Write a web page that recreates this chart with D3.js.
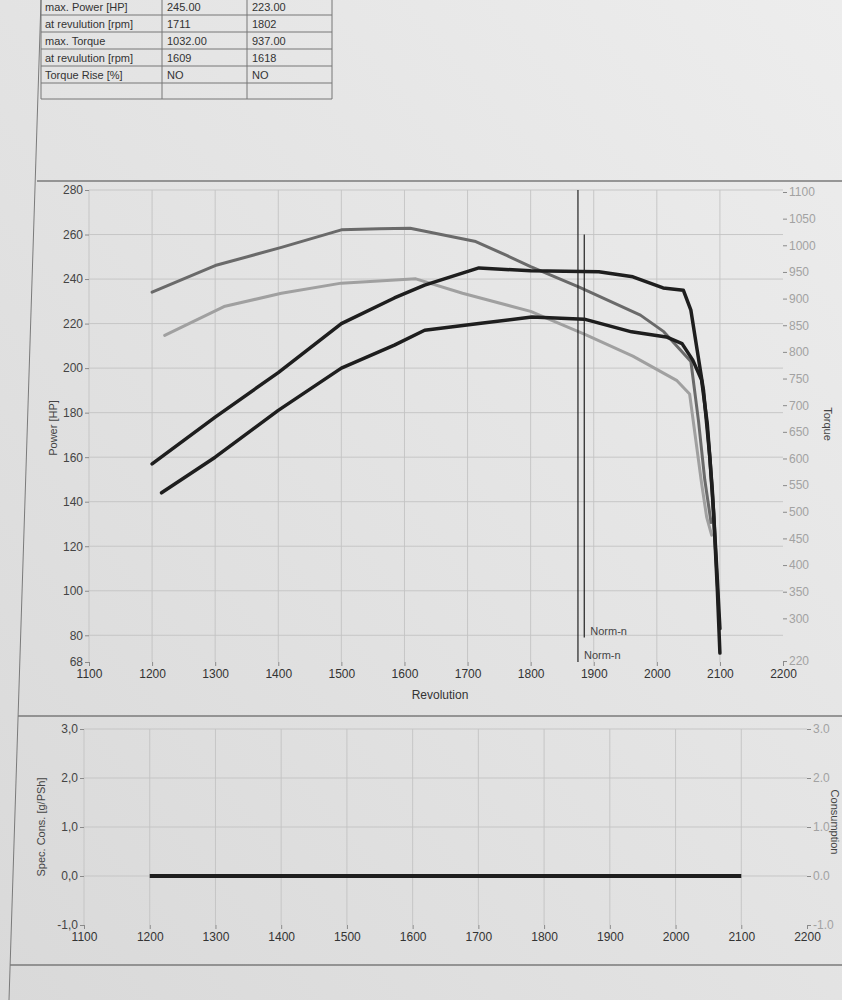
<!DOCTYPE html>
<html>
<head>
<meta charset="utf-8">
<script src="https://cdn.jsdelivr.net/npm/d3@7"></script>
<style>
  body { margin: 0; background: #e3e3e3; }
  svg { display: block; font-family: "Liberation Sans", Arial, sans-serif; }
</style>
</head>
<body>
<svg id="chart" width="842" height="1000"></svg>
<script>
// --- table at the top of the sheet ---
const tableLabels = ["max. Power [HP]", "at revulution [rpm]", "max. Torque", "at revulution [rpm]", "Torque Rise [%]", ""];
const tableRun1 = ["245.00", "1711", "1032.00", "1609", "NO", ""];
const tableRun2 = ["223.00", "1802", "937.00", "1618", "NO", ""];

// --- tick labels ---
const rpmTicks = [1100, 1200, 1300, 1400, 1500, 1600, 1700, 1800, 1900, 2000, 2100, 2200];
const powerTicks = [68, 80, 100, 120, 140, 160, 180, 200, 220, 240, 260, 280];
const torqueTicks = [220, 300, 350, 400, 450, 500, 550, 600, 650, 700, 750, 800, 850, 900, 950, 1000, 1050, 1100];
const consTicks = [-1, 0, 1, 2, 3];

// --- run 1 ---
const power1Rpm = [1200, 1300, 1400, 1500, 1584, 1632, 1718, 1800, 1908, 1962, 2010, 2042, 2054, 2064, 2074, 2084, 2090, 2096, 2100];
const power1Hp  = [157, 178, 198, 220, 231.5, 237.3, 245, 243.7, 243.3, 241, 236, 235, 226, 208, 190, 160, 135, 100, 72];
const torque1Rpm = [1200, 1300, 1405, 1500, 1560, 1609, 1713, 1762, 1800, 1876, 1974, 2011, 2054, 2066, 2076, 2086];
const torque1Nm  = [912, 962, 996, 1029, 1031, 1032, 1007, 981, 960, 922, 869, 838, 782, 671, 560, 480];

// --- run 2 ---
const power2Rpm = [1215, 1300, 1400, 1500, 1584, 1632, 1718, 1802, 1885, 1960, 2015, 2040, 2057, 2071, 2080, 2088, 2095, 2100];
const power2Hp  = [144, 160, 181, 200, 210.3, 217, 220, 223, 222, 216.3, 214, 211, 203.6, 194.6, 175, 145, 110, 83];
const torque2Rpm = [1220, 1314, 1405, 1500, 1618, 1692, 1800, 1886, 1962, 2032, 2052, 2071, 2079, 2087];
const torque2Nm  = [831, 885, 910, 929, 937, 910, 876, 833, 792, 746, 721, 553, 490, 456];

// --- Norm-n markers (rpm, top / bottom in HP units) ---
const normRpm = [1875, 1885];
const normTop = [280, 260];
const normBottom = [68, 79];

// --- specific consumption ---
const consRpm = [1200, 2100];
const consValue = [0, 0];

const svg = d3.select("#chart");

// paper background
const defs = svg.append("defs");
const grad = defs.append("linearGradient").attr("id", "paper")
  .attr("x1", 0).attr("y1", 1).attr("x2", 1).attr("y2", 0);
grad.append("stop").attr("offset", "0%").attr("stop-color", "#d9d9d9");
grad.append("stop").attr("offset", "100%").attr("stop-color", "#ededed");
svg.append("rect").attr("width", 842).attr("height", 1000).attr("fill", "url(#paper)");

// sheet frame lines
const frame = svg.append("g").attr("stroke", "#7a7a7a").attr("fill", "none");
frame.append("line").attr("x1", 41).attr("y1", 0).attr("x2", 9).attr("y2", 1000).attr("stroke-width", 1);
frame.append("line").attr("x1", 37).attr("y1", 181).attr("x2", 842).attr("y2", 181).attr("stroke-width", 1.5);
frame.append("line").attr("x1", 18).attr("y1", 716).attr("x2", 842).attr("y2", 716).attr("stroke-width", 1.5);
frame.append("line").attr("x1", 10).attr("y1", 965).attr("x2", 842).attr("y2", 965).attr("stroke-width", 1.5);

// table
const colX = [41, 162, 247, 332];
const rowY = [-2, 15, 32, 49, 66, 83, 99];
const table = svg.append("g");
colX.forEach(x => table.append("line").attr("x1", x).attr("x2", x).attr("y1", 0).attr("y2", 99)
  .attr("stroke", "#777"));
rowY.slice(1).forEach(y => table.append("line").attr("x1", 41).attr("x2", 332).attr("y1", y).attr("y2", y)
  .attr("stroke", "#777"));
const tableCols = [tableLabels, tableRun1, tableRun2];
tableCols.forEach((col, c) => {
  table.selectAll(null).data(col).join("text")
    .attr("x", colX[c] + (c === 0 ? 4 : 5))
    .attr("y", (d, i) => (rowY[i] + rowY[i + 1]) / 2 + 4)
    .attr("font-size", 11)
    .attr("fill", "#333")
    .text(d => d);
});

// ================= top panel: power / torque =================
const x1 = d3.scaleLinear([1100, 2200], [89, 783]);
const yP = d3.scaleLinear([68, 280], [662, 190]);
const yT = d3.scaleLinear([220, 1100], [661, 192]);

const grid1 = svg.append("g").attr("stroke", "#c3c3c3").attr("stroke-width", 0.9);
grid1.selectAll(null).data(rpmTicks.slice(0, -1)).join("line")
  .attr("x1", d => x1(d)).attr("x2", d => x1(d))
  .attr("y1", yP(280)).attr("y2", yP(68));
grid1.selectAll(null).data(powerTicks.slice(1)).join("line")
  .attr("x1", x1(1100)).attr("x2", x1(2200))
  .attr("y1", d => yP(d)).attr("y2", d => yP(d));

function styleAxis(g, color) {
  g.select(".domain").remove();
  g.selectAll(".tick line").attr("stroke", "#8a8a8a");
  g.selectAll(".tick text").attr("fill", color).attr("font-size", 12)
    .attr("font-family", "Liberation Sans, Arial, sans-serif");
}

svg.append("g").attr("transform", `translate(${x1(1100)},0)`)
  .call(d3.axisLeft(yP).tickValues(powerTicks).tickFormat(d3.format("d")).tickSize(4).tickPadding(2))
  .call(g => styleAxis(g, "#444"));
svg.append("g").attr("transform", `translate(${x1(2200)},0)`)
  .call(d3.axisRight(yT).tickValues(torqueTicks).tickFormat(d3.format("d")).tickSize(4).tickPadding(2))
  .call(g => styleAxis(g, "#a2a2a2"));
svg.append("g").attr("transform", `translate(0,${yP(68)})`)
  .call(d3.axisBottom(x1).tickValues(rpmTicks).tickFormat(d3.format("d")).tickSize(4).tickPadding(3))
  .call(g => styleAxis(g, "#333"));

svg.append("text").attr("x", 440).attr("y", 699).attr("text-anchor", "middle")
  .attr("font-size", 12).attr("fill", "#333").text("Revolution");
svg.append("text").attr("transform", "translate(57,428) rotate(-90)").attr("text-anchor", "middle")
  .attr("font-size", 11).attr("fill", "#444").text("Power [HP]");
svg.append("text").attr("transform", "translate(824,424) rotate(90)").attr("text-anchor", "middle")
  .attr("font-size", 11).attr("fill", "#444").text("Torque");

const zip = (a, b) => a.map((v, i) => [v, b[i]]);
const linePow = d3.line().x(d => x1(d[0])).y(d => yP(d[1]));
const lineTor = d3.line().x(d => x1(d[0])).y(d => yT(d[1]));

const curves = svg.append("g").attr("fill", "none").attr("stroke-linejoin", "round").attr("stroke-linecap", "round");
curves.append("path").attr("d", lineTor(zip(torque2Rpm, torque2Nm)))
  .attr("stroke", "#a0a0a0").attr("stroke-width", 3);
curves.append("path").attr("d", lineTor(zip(torque1Rpm, torque1Nm)))
  .attr("stroke", "#6a6a6a").attr("stroke-width", 3);
curves.append("path").attr("d", linePow(zip(power2Rpm, power2Hp)))
  .attr("stroke", "#1e1e1e").attr("stroke-width", 3.5);
curves.append("path").attr("d", linePow(zip(power1Rpm, power1Hp)))
  .attr("stroke", "#1e1e1e").attr("stroke-width", 3.5);

// Norm-n markers
const norm = svg.append("g");
normRpm.forEach((r, i) => {
  norm.append("line").attr("x1", x1(r)).attr("x2", x1(r))
    .attr("y1", yP(normTop[i])).attr("y2", yP(normBottom[i]))
    .attr("stroke", "#222").attr("stroke-width", 1.2);
  norm.append("text").attr("x", x1(r) + 6).attr("y", yP(normBottom[i]) - 3)
    .attr("font-size", 11).attr("fill", "#444").text("Norm-n");
});

// ================= bottom panel: consumption =================
const x2 = d3.scaleLinear([1100, 2200], [84, 807]);
const yC = d3.scaleLinear([-1, 3], [925, 729]);

const grid2 = svg.append("g").attr("stroke", "#c3c3c3").attr("stroke-width", 0.9);
grid2.selectAll(null).data(rpmTicks.slice(0, -1)).join("line")
  .attr("x1", d => x2(d)).attr("x2", d => x2(d))
  .attr("y1", yC(3)).attr("y2", yC(-1));
grid2.selectAll(null).data(consTicks.slice(1)).join("line")
  .attr("x1", x2(1100)).attr("x2", x2(2200))
  .attr("y1", d => yC(d)).attr("y2", d => yC(d));

svg.append("g").attr("transform", `translate(${x2(1100)},0)`)
  .call(d3.axisLeft(yC).tickValues(consTicks).tickSize(4).tickPadding(2)
    .tickFormat(d => d3.format(".1f")(d).replace(".", ",").replace("−", "-")))
  .call(g => styleAxis(g, "#444"));
svg.append("g").attr("transform", `translate(${x2(2200)},0)`)
  .call(d3.axisRight(yC).tickValues(consTicks).tickSize(4).tickPadding(2)
    .tickFormat(d => d3.format(".1f")(d).replace("−", "-")))
  .call(g => styleAxis(g, "#a2a2a2"));
svg.append("g").attr("transform", `translate(0,${yC(-1)})`)
  .call(d3.axisBottom(x2).tickValues(rpmTicks).tickFormat(d3.format("d")).tickSize(4).tickPadding(3))
  .call(g => styleAxis(g, "#333"));

svg.append("text").attr("transform", "translate(45,827) rotate(-90)").attr("text-anchor", "middle")
  .attr("font-size", 11).attr("fill", "#444").text("Spec. Cons. [g/PSh]");
svg.append("text").attr("transform", "translate(831,822) rotate(90)").attr("text-anchor", "middle")
  .attr("font-size", 11).attr("fill", "#444").text("Consumption");

const lineCons = d3.line().x(d => x2(d[0])).y(d => yC(d[1]));
svg.append("path").attr("d", lineCons(zip(consRpm, consValue)))
  .attr("fill", "none").attr("stroke", "#1e1e1e").attr("stroke-width", 4);
</script>
</body>
</html>
